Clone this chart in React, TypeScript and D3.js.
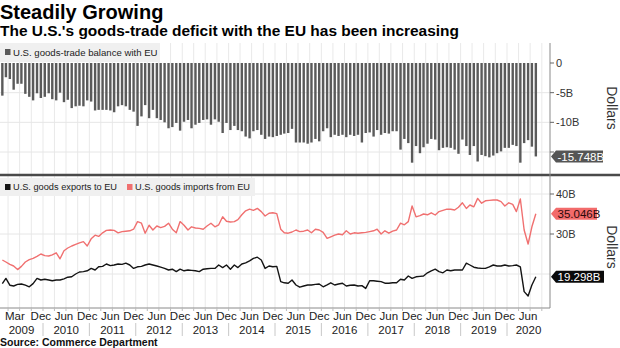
import React from 'react';
import * as d3 from 'd3';

// Monthly values, Feb 2009 .. Aug 2020 (billions of dollars)
const balanceValues: number[] = [
  -5.5, -2.4, -2.7, -4.5, -3.5, -3.5, -5.2, -5.7, -6.3, -5.1,
  -5.9, -5.7, -5.1, -6.1, -6.3, -5.0, -6.6, -6.2, -7.6, -7.3,
  -7.2, -7.3, -6.3, -6.5, -8.0, -7.9, -7.9, -7.9, -8.0, -8.3,
  -7.3, -7.1, -7.3, -7.9, -8.2, -10.6, -9.0, -7.1, -9.3, -7.9,
  -9.3, -9.6, -10.0, -11.0, -10.8, -10.1, -11.4, -9.9, -9.6, -11.0,
  -10.4, -10.1, -9.6, -9.5, -10.4, -9.5, -9.9, -11.8, -10.1, -11.3,
  -10.6, -11.3, -11.5, -12.4, -12.7, -11.5, -11.3, -12.1, -12.8, -12.4,
  -12.5, -12.3, -12.1, -11.9, -11.8, -11.1, -13.4, -13.4, -13.4, -13.6,
  -13.4, -12.8, -13.2, -11.5, -11.0, -12.5, -12.1, -12.3, -12.1, -12.5,
  -12.1, -12.3, -12.1, -13.4, -11.8, -11.7, -12.4, -11.3, -12.1, -11.8,
  -11.9, -11.5, -11.5, -14.6, -12.8, -13.5, -16.8, -14.0, -15.2, -14.2,
  -13.6, -12.8, -12.9, -14.7, -14.3, -14.2, -14.3, -14.6, -15.3, -12.9,
  -14.0, -15.5, -14.0, -16.6, -15.5, -15.7, -15.9, -15.6, -15.2, -14.9,
  -14.3, -14.3, -13.8, -14.0, -16.8, -13.5, -13.0, -14.1, -15.748,
];

const exportValues: number[] = [
  17.6, 18.9, 17.2, 17.0, 17.4, 17.5, 17.2, 16.8, 17.6, 18.9,
  18.5, 18.7, 18.5, 18.3, 18.5, 18.5, 18.8, 19.2, 19.3, 20.0,
  20.5, 20.6, 20.8, 21.4, 21.0, 21.8, 21.9, 22.5, 22.1, 22.25,
  22.5, 22.4, 22.7, 22.25, 21.4, 21.8, 21.9, 22.25, 22.5, 22.25,
  22.0, 21.7, 21.4, 21.0, 21.2, 20.6, 21.2, 20.8, 21.0, 20.9,
  20.8, 20.6, 21.2, 21.3, 21.4, 21.4, 22.25, 21.6, 22.25, 21.2,
  22.25, 21.6, 22.5, 22.8, 23.3, 23.9, 24.2, 23.5, 21.4, 22.0,
  21.8, 21.9, 18.1, 17.8, 17.7, 18.5, 17.25, 16.7, 17.0, 17.25,
  17.25, 17.4, 17.5, 16.8, 17.3, 17.8, 17.25, 17.5, 17.7, 17.0,
  17.2, 17.25, 17.0, 17.1, 16.4, 18.3, 18.3, 18.2, 18.1, 17.7,
  17.7, 17.8, 17.8, 18.7, 18.5, 19.5, 18.9, 19.3, 19.4, 19.5,
  20.3, 20.8, 21.2, 20.6, 20.3, 21.0, 20.8, 21.0, 21.0, 21.0,
  22.7, 22.25, 21.7, 21.5, 21.4, 21.4, 21.8, 22.25, 22.0, 22.0,
  22.25, 22.0, 22.1, 22.25, 21.8, 15.6, 14.5, 17.25, 19.298,
];

const importValues: number[] = [
  23.5, 23.0, 22.4, 22.0, 21.1, 21.9, 23.0, 23.6, 23.9, 24.4,
  25.0, 24.6, 24.5, 24.8, 25.3, 23.8, 25.8, 26.5, 27.0, 27.4,
  27.8, 28.1, 27.0, 28.8, 29.7, 29.4, 30.3, 30.9, 31.0, 30.9,
  30.3, 30.6, 30.7, 30.8, 31.2, 33.1, 32.7, 30.2, 32.2, 31.0,
  32.0, 31.6, 31.9, 32.7, 31.2, 30.3, 33.1, 32.2, 31.0, 31.8,
  31.5, 31.4, 31.2, 32.0, 32.7, 31.8, 32.3, 34.3, 33.2, 33.0,
  33.1, 33.6, 34.8, 35.8, 36.2, 35.9, 36.4, 35.6, 34.5, 35.2,
  35.3, 35.1, 31.2, 30.3, 30.2, 30.5, 31.0, 30.6, 30.7, 31.0,
  30.3, 31.2, 31.0, 30.4, 28.9, 29.3, 29.7, 30.0, 29.8, 30.8,
  30.0, 30.3, 30.2, 30.3, 30.4, 30.6, 30.8, 31.2, 30.0, 30.8,
  30.2, 30.7, 31.0, 32.7, 32.3, 33.1, 37.0, 34.3, 34.6, 35.0,
  34.8, 35.3, 34.75, 35.6, 35.9, 36.2, 36.2, 36.0, 36.7, 37.8,
  36.4, 37.25, 36.8, 38.9, 37.7, 38.3, 38.4, 38.5, 38.5, 38.1,
  37.0, 37.8, 37.4, 35.6, 38.75, 31.0, 27.5, 31.8, 35.046,
];

const monthTickDates: string[] = [
  '2009-03', '2009-12', '2010-06', '2010-12', '2011-06', '2011-12', '2012-06', '2012-12',
  '2013-06', '2013-12', '2014-06', '2014-12', '2015-06', '2015-12', '2016-06', '2016-12',
  '2017-06', '2017-12', '2018-06', '2018-12', '2019-06', '2019-12', '2020-06',
];
const monthTickLabels: string[] = [
  'Mar', 'Dec', 'Jun', 'Dec', 'Jun', 'Dec', 'Jun', 'Dec', 'Jun', 'Dec', 'Jun', 'Dec',
  'Jun', 'Dec', 'Jun', 'Dec', 'Jun', 'Dec', 'Jun', 'Dec', 'Jun', 'Dec', 'Jun',
];
const yearLabels: string[] = [
  '2009', '2010', '2011', '2012', '2013', '2014', '2015', '2016', '2017', '2018', '2019', '2020',
];
const topTicks: number[] = [0, -5, -10, -15];
const topTickLabels: string[] = ['0', '-5B', '-10B', ''];
const bottomGrid: number[] = [40, 30, 20];
const bottomTicks: number[] = [40, 30];
const bottomTickLabels: string[] = ['40B', '30B'];

const titleText = 'Steadily Growing';
const subtitleText = "The U.S.'s goods-trade deficit with the EU has been increasing";
const sourceText = 'Source: Commerce Department';
const legendTop = 'U.S. goods-trade balance with EU';
const legendExports = 'U.S. goods exports to EU';
const legendImports = 'U.S. goods imports from EU';
const axisTitle = 'Dollars';

const FONT = "'Liberation Sans', Arial, Helvetica, sans-serif";
const BAR = '#5a5a5a';
const BLACK = '#141414';
const RED = '#f07070';

export default function App() {
  const W = 620, H = 348;
  const plotL = 0, plotR = 550;
  const topY0 = 43, sepY = 175, botY1 = 308;

  const x = d3.scaleTime()
    .domain([new Date(2010, 0, 1), new Date(2020, 0, 1)])
    .range([43, 507]);
  const yTop = d3.scaleLinear().domain([0, -15]).range([63, 152]);
  const yBot = d3.scaleLinear().domain([40, 30]).range([194, 234]);

  const dates = balanceValues.map((_, i) => new Date(2009, 1 + i, 15));

  const quarterLines = d3.timeMonth.every(3)!
    .range(new Date(2009, 0, 1), new Date(2021, 0, 1))
    .map((d) => x(d))
    .filter((v) => v > plotL + 1 && v < plotR - 1);

  const yearStarts = yearLabels.map((y) => new Date(+y, 0, 1));
  const yearSeps = yearStarts.map((d) => x(d)).filter((v) => v > plotL && v < plotR);
  const yearCenters = yearLabels.map((y) => {
    const a = Math.max(plotL, x(new Date(+y, 0, 1)));
    const b = Math.min(plotR, x(new Date(+y + 1, 0, 1)));
    return (a + b) / 2;
  });

  const line = d3.line<number>()
    .x((_, i) => x(dates[i]))
    .y((v) => yBot(v));

  const lastBal = balanceValues[balanceValues.length - 1];
  const lastExp = exportValues[exportValues.length - 1];
  const lastImp = importValues[importValues.length - 1];

  const tag = (yc: number, text: string, fill: string, color: string, w: number) => {
    const x0 = plotR + 1;
    const h = 12;
    const p = `M${x0},${yc} L${x0 + 5},${yc - h / 2} L${x0 + 5 + w},${yc - h / 2} L${x0 + 5 + w},${yc + h / 2} L${x0 + 5},${yc + h / 2} Z`;
    return (
      <g>
        <path d={p} fill={fill} />
        <text x={x0 + 6.5} y={yc} dy="0.36em" fontSize={11.5} fill={color} fontFamily={FONT}>{text}</text>
      </g>
    );
  };

  return (
    <svg width={W} height={H} viewBox={`0 0 ${W} ${H}`}
      style={{ position: 'absolute', left: 0, top: 0, background: '#fff' }}
      fontFamily={FONT}>
      <defs>
        <clipPath id="plotClip">
          <rect x={plotL} y={topY0} width={plotR - plotL} height={botY1 - topY0} />
        </clipPath>
      </defs>
      <rect x={0} y={0} width={W} height={H} fill="#fff" />

      {/* title */}
      <text x={0} y={19} fontSize={20} fontWeight="bold" fill="#000">{titleText}</text>
      <text x={0} y={35.5} fontSize={15.2} fontWeight="bold" fill="#000"
        textLength={459} lengthAdjust="spacingAndGlyphs">{subtitleText}</text>

      {/* gridlines */}
      {quarterLines.map((v, i) => (
        <line key={'q' + i} x1={v} x2={v} y1={topY0} y2={botY1} stroke="#e9e9e9" strokeWidth={1} />
      ))}
      {topTicks.filter((t) => t !== 0).map((t) => (
        <line key={'tg' + t} x1={plotL} x2={plotR} y1={yTop(t)} y2={yTop(t)} stroke="#e6e6e6" />
      ))}
      {bottomGrid.map((t) => (
        <line key={'bg' + t} x1={plotL} x2={plotR} y1={yBot(t)} y2={yBot(t)} stroke="#e6e6e6" />
      ))}

      {/* bars and lines */}
      <g clipPath="url(#plotClip)">
        {balanceValues.map((v, i) => (
          <rect key={'b' + i} x={x(dates[i]) - 1.2} width={2.4}
            y={yTop(0)} height={yTop(v) - yTop(0)} fill={BAR} />
        ))}
        <path d={line(importValues) || ''} fill="none" stroke={RED} strokeWidth={1.4} strokeLinejoin="round" />
        <path d={line(exportValues) || ''} fill="none" stroke={BLACK} strokeWidth={1.4} strokeLinejoin="round" />
      </g>

      {/* legends */}
      <rect x={0} y={43} width={160} height={19} fill="#f0f0f0" />
      <rect x={5} y={49} width={5.5} height={6} fill={BAR} />
      <text x={13} y={52.5} dy="0.35em" fontSize={9.6} fill="#222">{legendTop}</text>

      <rect x={0} y={178} width={255} height={18} fill="#f0f0f0" />
      <rect x={5} y={184} width={5.5} height={6} fill={BLACK} />
      <text x={13} y={187} dy="0.35em" fontSize={9.6} fill="#222"
        textLength={104} lengthAdjust="spacingAndGlyphs">{legendExports}</text>
      <rect x={127} y={184} width={5.5} height={6} fill={RED} />
      <text x={135} y={187} dy="0.35em" fontSize={9.6} fill="#222"
        textLength={115} lengthAdjust="spacingAndGlyphs">{legendImports}</text>

      {/* separator between panels */}
      <line x1={0} x2={W} y1={sepY} y2={sepY} stroke="#4a4a4a" strokeWidth={2.5} />

      {/* right axis */}
      <line x1={plotR} x2={plotR} y1={topY0} y2={botY1} stroke="#8a8a8a" strokeWidth={1} />
      <line x1={plotL} x2={plotR} y1={botY1} y2={botY1} stroke="#8a8a8a" strokeWidth={1} />
      {topTicks.map((t, i) => (
        <g key={'tt' + t}>
          <line x1={plotR} x2={plotR + 4} y1={yTop(t)} y2={yTop(t)} stroke="#666" />
          {topTickLabels[i] ? (
            <text x={plotR + 6} y={yTop(t)} dy="0.35em" fontSize={11} fill="#333">{topTickLabels[i]}</text>
          ) : null}
        </g>
      ))}
      {bottomTicks.map((t, i) => (
        <g key={'bt' + t}>
          <line x1={plotR} x2={plotR + 4} y1={yBot(t)} y2={yBot(t)} stroke="#666" />
          <text x={plotR + 6} y={yBot(t)} dy="0.35em" fontSize={11} fill="#333">{bottomTickLabels[i]}</text>
        </g>
      ))}
      <text transform={`translate(607,108) rotate(90)`} textAnchor="middle" fontSize={14} fill="#333">{axisTitle}</text>
      <text transform={`translate(607,247) rotate(90)`} textAnchor="middle" fontSize={14} fill="#333">{axisTitle}</text>

      {/* last value tags */}
      {tag(yTop(lastBal), `${lastBal.toFixed(3)}B`, '#555555', '#fff', 47)}
      {tag(yBot(lastImp), `${lastImp.toFixed(3)}B`, '#f26b6b', '#2a0a0a', 41)}
      {tag(yBot(lastExp), `${lastExp.toFixed(3)}B`, '#0a0a0a', '#fff', 48)}

      {/* x axis */}
      {quarterLines.map((v, i) => (
        <line key={'xt' + i} x1={v} x2={v} y1={botY1} y2={botY1 + 3} stroke="#bbb" />
      ))}
      {monthTickDates.map((s, i) => {
        const [yy, mm] = s.split('-').map(Number);
        const cx = x(new Date(yy, mm - 1, 15));
        const first = i === 0;
        return (
          <text key={'m' + i} x={first ? 5 : cx} y={320} fontSize={11.5} fill="#222"
            textAnchor={first ? 'start' : 'middle'}>{monthTickLabels[i]}</text>
        );
      })}
      {yearSeps.map((v, i) => (
        <line key={'ys' + i} x1={v} x2={v} y1={323} y2={336} stroke="#c8c8c8" />
      ))}
      {yearLabels.map((y, i) => (
        <text key={'y' + y} x={yearCenters[i]} y={334} fontSize={11.5} fill="#222" textAnchor="middle">{y}</text>
      ))}

      <text x={0} y={346} fontSize={10.5} fontWeight="bold" fill="#111">{sourceText}</text>
    </svg>
  );
}
